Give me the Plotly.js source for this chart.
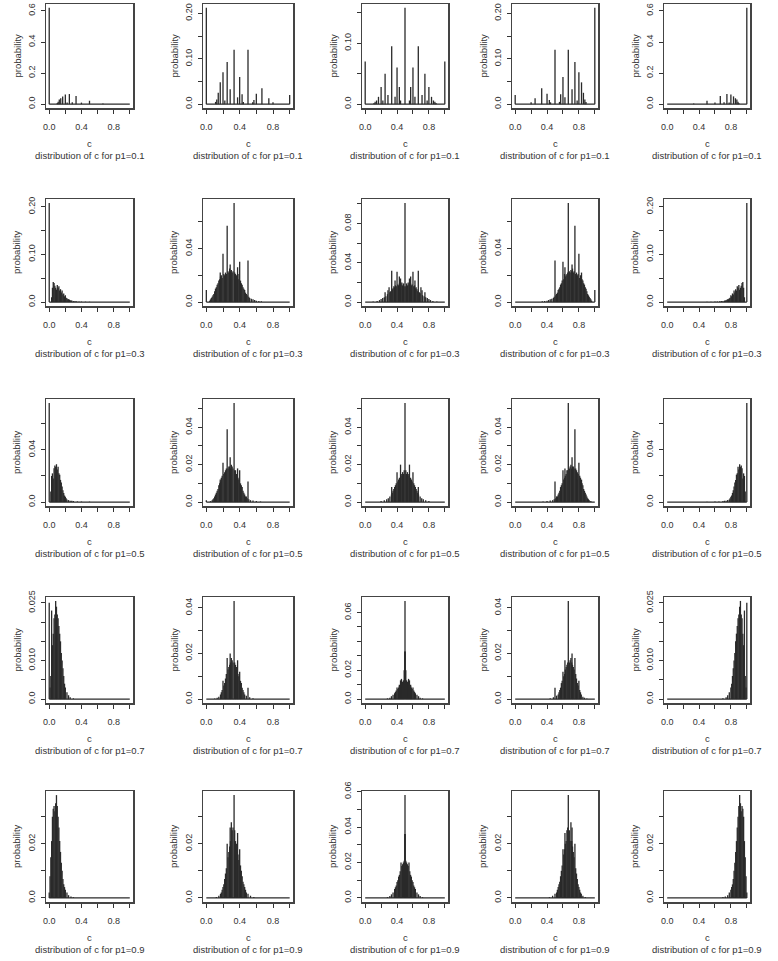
<!DOCTYPE html>
<html><head><meta charset="utf-8">
<script src="https://cdn.plot.ly/plotly-3.0.1.min.js"></script>
<style>html,body{margin:0;padding:0;background:#fff;}#chart{width:778px;height:961px;}</style>
</head><body><div id="chart"></div>
<script>
// ---------- data ----------
const p1Values = ["0.1", "0.3", "0.5", "0.7", "0.9"];
const cSupport = [0, 1];
const xTickVals = [0, 0.2, 0.4, 0.6, 0.8, 1.0];
const xTickText = ["0.0", "", "0.4", "", "0.8", ""];

// row 1: p1 = 0.1
const r1c1_x = [0, 0.1, 0.111, 0.125, 0.143, 0.167, 0.2, 0.222, 0.25, 0.286, 0.333, 0.4, 0.5, 0.667];
const r1c1_p = [0.62, 0.008, 0.015, 0.03, 0.038, 0.05, 0.062, 0.01, 0.065, 0.012, 0.052, 0.01, 0.022, 0.004];
const r1c2_x = [0, 0.111, 0.125, 0.143, 0.167, 0.2, 0.222, 0.25, 0.286, 0.333, 0.375, 0.4, 0.429, 0.444, 0.5, 0.556, 0.571, 0.6, 0.667, 0.75, 0.8, 1.0];
const r1c2_p = [0.212, 0.005, 0.01, 0.025, 0.048, 0.07, 0.008, 0.093, 0.033, 0.12, 0.015, 0.06, 0.022, 0.005, 0.12, 0.004, 0.009, 0.023, 0.035, 0.013, 0.004, 0.02];
const r1c3_x = [0, 0.111, 0.125, 0.143, 0.167, 0.2, 0.222, 0.25, 0.286, 0.333, 0.375, 0.4, 0.429, 0.444, 0.5, 0.556, 0.571, 0.6, 0.625, 0.667, 0.714, 0.75, 0.778, 0.8, 0.833, 0.857, 0.875, 0.889, 1.0];
const r1c3_p = [0.07, 0.002, 0.004, 0.006, 0.012, 0.028, 0.006, 0.05, 0.015, 0.095, 0.012, 0.06, 0.028, 0.006, 0.158, 0.006, 0.028, 0.06, 0.012, 0.095, 0.015, 0.05, 0.006, 0.028, 0.012, 0.006, 0.004, 0.002, 0.07];
const r1c4_x = [0, 0.2, 0.25, 0.333, 0.4, 0.429, 0.444, 0.5, 0.556, 0.571, 0.6, 0.625, 0.667, 0.714, 0.75, 0.778, 0.8, 0.833, 0.857, 0.875, 0.889, 1.0];
const r1c4_p = [0.02, 0.004, 0.013, 0.035, 0.023, 0.009, 0.004, 0.12, 0.005, 0.022, 0.06, 0.015, 0.12, 0.033, 0.093, 0.008, 0.07, 0.048, 0.025, 0.01, 0.005, 0.212];
const r1c5_x = [0.333, 0.5, 0.6, 0.667, 0.714, 0.75, 0.778, 0.8, 0.833, 0.857, 0.875, 0.889, 0.9, 1.0];
const r1c5_p = [0.004, 0.022, 0.01, 0.052, 0.012, 0.065, 0.01, 0.062, 0.05, 0.038, 0.03, 0.015, 0.008, 0.62];

// row 2: p1 = 0.3
const r2c1_x = [0, 0.03, 0.04, 0.05, 0.06, 0.07, 0.08, 0.09, 0.1, 0.11, 0.12, 0.13, 0.14, 0.15, 0.16, 0.17, 0.18, 0.19, 0.2, 0.21, 0.22, 0.23, 0.24, 0.25, 0.26, 0.27, 0.28, 0.3, 0.32, 0.34, 0.37, 0.4, 0.45, 0.5];
const r2c1_p = [0.208, 0.01, 0.03, 0.042, 0.04, 0.034, 0.03, 0.026, 0.036, 0.03, 0.033, 0.024, 0.027, 0.02, 0.024, 0.016, 0.018, 0.012, 0.014, 0.009, 0.008, 0.006, 0.006, 0.005, 0.004, 0.003, 0.003, 0.002, 0.002, 0.0015, 0.001, 0.001, 0.0008, 0.0006];
const r2c2_x = [0, 0.04, 0.05, 0.06, 0.07, 0.08, 0.09, 0.1, 0.11, 0.12, 0.13, 0.14, 0.15, 0.16, 0.167, 0.17, 0.18, 0.19, 0.2, 0.21, 0.22, 0.23, 0.24, 0.25, 0.26, 0.27, 0.28, 0.286, 0.29, 0.3, 0.31, 0.32, 0.333, 0.34, 0.35, 0.36, 0.37, 0.375, 0.38, 0.39, 0.4, 0.41, 0.42, 0.43, 0.44, 0.45, 0.46, 0.47, 0.48, 0.49, 0.5, 0.51, 0.52, 0.54, 0.56, 0.58, 0.6, 0.63, 0.66];
const r2c2_p = [0.009, 0.001, 0.002, 0.003, 0.004, 0.005, 0.006, 0.008, 0.01, 0.011, 0.013, 0.014, 0.016, 0.017, 0.022, 0.019, 0.02, 0.018, 0.036, 0.021, 0.02, 0.022, 0.021, 0.057, 0.023, 0.022, 0.025, 0.028, 0.023, 0.024, 0.022, 0.023, 0.074, 0.022, 0.021, 0.02, 0.019, 0.026, 0.021, 0.017, 0.03, 0.016, 0.014, 0.013, 0.011, 0.01, 0.009, 0.007, 0.006, 0.005, 0.031, 0.004, 0.003, 0.0025, 0.002, 0.0015, 0.001, 0.0008, 0.0005];
const r2c3_x = [0.1, 0.15, 0.18, 0.2, 0.22, 0.24, 0.25, 0.26, 0.28, 0.286, 0.3, 0.31, 0.32, 0.333, 0.34, 0.35, 0.36, 0.37, 0.375, 0.38, 0.39, 0.4, 0.41, 0.42, 0.429, 0.43, 0.444, 0.45, 0.46, 0.47, 0.48, 0.49, 0.5, 0.51, 0.52, 0.53, 0.54, 0.55, 0.556, 0.57, 0.571, 0.58, 0.59, 0.6, 0.61, 0.62, 0.625, 0.63, 0.64, 0.65, 0.66, 0.667, 0.68, 0.69, 0.7, 0.714, 0.72, 0.74, 0.75, 0.76, 0.78, 0.8, 0.82, 0.85, 0.9];
const r2c3_p = [0.0005, 0.001, 0.002, 0.003, 0.004, 0.005, 0.01, 0.006, 0.008, 0.012, 0.015, 0.01, 0.011, 0.032, 0.013, 0.014, 0.016, 0.015, 0.022, 0.017, 0.016, 0.031, 0.018, 0.017, 0.026, 0.019, 0.024, 0.018, 0.02, 0.017, 0.019, 0.016, 0.101, 0.016, 0.019, 0.017, 0.02, 0.018, 0.024, 0.019, 0.026, 0.017, 0.018, 0.031, 0.016, 0.017, 0.022, 0.014, 0.015, 0.013, 0.011, 0.032, 0.01, 0.009, 0.015, 0.012, 0.007, 0.006, 0.01, 0.005, 0.004, 0.003, 0.002, 0.001, 0.0005];
const r2c4_x = [0.34, 0.37, 0.4, 0.42, 0.44, 0.46, 0.48, 0.49, 0.5, 0.51, 0.52, 0.53, 0.54, 0.55, 0.56, 0.57, 0.58, 0.59, 0.6, 0.61, 0.62, 0.625, 0.63, 0.64, 0.65, 0.66, 0.667, 0.68, 0.69, 0.7, 0.71, 0.714, 0.72, 0.73, 0.74, 0.75, 0.76, 0.77, 0.78, 0.79, 0.8, 0.81, 0.82, 0.83, 0.833, 0.84, 0.85, 0.86, 0.87, 0.88, 0.89, 0.9, 0.91, 0.92, 0.93, 0.94, 0.95, 0.96, 1.0];
const r2c4_p = [0.0005, 0.0008, 0.001, 0.0015, 0.002, 0.0025, 0.003, 0.004, 0.031, 0.005, 0.006, 0.007, 0.009, 0.01, 0.011, 0.013, 0.014, 0.016, 0.03, 0.017, 0.021, 0.026, 0.019, 0.02, 0.021, 0.022, 0.074, 0.023, 0.022, 0.024, 0.023, 0.028, 0.025, 0.022, 0.023, 0.057, 0.021, 0.022, 0.02, 0.021, 0.036, 0.018, 0.02, 0.019, 0.022, 0.017, 0.016, 0.014, 0.013, 0.011, 0.01, 0.008, 0.006, 0.005, 0.004, 0.003, 0.002, 0.001, 0.009];
const r2c5_x = [0.5, 0.55, 0.6, 0.63, 0.66, 0.68, 0.7, 0.72, 0.73, 0.74, 0.75, 0.76, 0.77, 0.78, 0.79, 0.8, 0.81, 0.82, 0.83, 0.84, 0.85, 0.86, 0.87, 0.88, 0.89, 0.9, 0.91, 0.92, 0.93, 0.94, 0.95, 0.96, 0.97, 1.0];
const r2c5_p = [0.0006, 0.0008, 0.001, 0.001, 0.0015, 0.002, 0.002, 0.003, 0.003, 0.004, 0.005, 0.006, 0.006, 0.008, 0.009, 0.014, 0.012, 0.018, 0.016, 0.024, 0.02, 0.027, 0.024, 0.033, 0.03, 0.036, 0.026, 0.03, 0.034, 0.04, 0.042, 0.03, 0.01, 0.208];

// row 3: p1 = 0.5
const r3c1_x = [0, 0.02, 0.03, 0.04, 0.05, 0.06, 0.07, 0.08, 0.09, 0.1, 0.11, 0.12, 0.13, 0.14, 0.15, 0.16, 0.17, 0.18, 0.19, 0.2, 0.21, 0.22, 0.24, 0.26, 0.28, 0.3, 0.35, 0.4, 0.5];
const r3c1_p = [0.076, 0.008, 0.02, 0.022, 0.018, 0.026, 0.028, 0.027, 0.029, 0.025, 0.027, 0.022, 0.021, 0.017, 0.015, 0.012, 0.009, 0.007, 0.005, 0.004, 0.003, 0.002, 0.0015, 0.001, 0.001, 0.0008, 0.0005, 0.0004, 0.0003];
const r3c2_x = [0, 0.05, 0.07, 0.08, 0.09, 0.1, 0.11, 0.12, 0.13, 0.14, 0.15, 0.16, 0.167, 0.17, 0.18, 0.19, 0.2, 0.21, 0.22, 0.23, 0.24, 0.25, 0.26, 0.27, 0.28, 0.286, 0.29, 0.3, 0.31, 0.32, 0.333, 0.34, 0.35, 0.36, 0.37, 0.375, 0.38, 0.39, 0.4, 0.41, 0.42, 0.43, 0.44, 0.45, 0.46, 0.47, 0.48, 0.49, 0.5, 0.51, 0.53, 0.56, 0.6, 0.65];
const r3c2_p = [0.001, 0.0005, 0.001, 0.0015, 0.002, 0.003, 0.004, 0.005, 0.006, 0.007, 0.009, 0.01, 0.012, 0.011, 0.013, 0.014, 0.021, 0.015, 0.016, 0.017, 0.018, 0.039, 0.018, 0.019, 0.019, 0.024, 0.018, 0.02, 0.019, 0.018, 0.053, 0.017, 0.017, 0.015, 0.014, 0.018, 0.013, 0.012, 0.017, 0.01, 0.009, 0.008, 0.006, 0.005, 0.004, 0.003, 0.003, 0.002, 0.011, 0.0015, 0.001, 0.0008, 0.0005, 0.0003];
const r3c3_x = [0.2, 0.24, 0.27, 0.29, 0.31, 0.33, 0.333, 0.34, 0.35, 0.36, 0.37, 0.38, 0.39, 0.4, 0.41, 0.42, 0.429, 0.43, 0.444, 0.45, 0.46, 0.47, 0.48, 0.49, 0.5, 0.51, 0.52, 0.53, 0.54, 0.55, 0.556, 0.57, 0.571, 0.58, 0.59, 0.6, 0.61, 0.62, 0.63, 0.64, 0.65, 0.66, 0.667, 0.67, 0.69, 0.71, 0.73, 0.76, 0.8];
const r3c3_p = [0.0005, 0.001, 0.0015, 0.002, 0.003, 0.004, 0.008, 0.005, 0.006, 0.007, 0.008, 0.009, 0.01, 0.016, 0.011, 0.012, 0.012, 0.013, 0.02, 0.014, 0.015, 0.016, 0.015, 0.017, 0.053, 0.017, 0.015, 0.016, 0.015, 0.014, 0.02, 0.013, 0.012, 0.012, 0.011, 0.016, 0.01, 0.009, 0.008, 0.007, 0.006, 0.005, 0.008, 0.004, 0.003, 0.002, 0.0015, 0.001, 0.0005];
const r3c4_x = [0.35, 0.4, 0.44, 0.47, 0.49, 0.5, 0.51, 0.52, 0.53, 0.54, 0.55, 0.56, 0.57, 0.58, 0.59, 0.6, 0.61, 0.62, 0.625, 0.63, 0.64, 0.65, 0.66, 0.667, 0.68, 0.69, 0.7, 0.71, 0.714, 0.72, 0.73, 0.74, 0.75, 0.76, 0.77, 0.778, 0.78, 0.79, 0.8, 0.81, 0.82, 0.83, 0.833, 0.84, 0.85, 0.86, 0.87, 0.88, 0.89, 0.9, 0.91, 0.92, 0.93, 0.95];
const r3c4_p = [0.0003, 0.0005, 0.0008, 0.001, 0.0015, 0.011, 0.002, 0.003, 0.003, 0.004, 0.005, 0.006, 0.008, 0.009, 0.01, 0.017, 0.012, 0.013, 0.018, 0.014, 0.015, 0.017, 0.017, 0.053, 0.018, 0.019, 0.02, 0.018, 0.024, 0.019, 0.019, 0.018, 0.039, 0.018, 0.017, 0.012, 0.016, 0.015, 0.021, 0.014, 0.013, 0.011, 0.012, 0.01, 0.009, 0.007, 0.006, 0.005, 0.004, 0.003, 0.002, 0.0015, 0.001, 0.0005];
const r3c5_x = [0.5, 0.6, 0.65, 0.7, 0.72, 0.74, 0.76, 0.78, 0.79, 0.8, 0.81, 0.82, 0.83, 0.84, 0.85, 0.86, 0.87, 0.88, 0.89, 0.9, 0.91, 0.92, 0.93, 0.94, 0.95, 0.96, 0.97, 0.98, 1.0];
const r3c5_p = [0.0003, 0.0004, 0.0005, 0.0008, 0.001, 0.001, 0.0015, 0.002, 0.003, 0.004, 0.005, 0.007, 0.009, 0.012, 0.015, 0.017, 0.021, 0.022, 0.027, 0.025, 0.029, 0.027, 0.028, 0.026, 0.018, 0.022, 0.02, 0.008, 0.076];

// row 4: p1 = 0.7
const r4c1_x = [0, 0.01, 0.02, 0.03, 0.04, 0.05, 0.06, 0.07, 0.08, 0.09, 0.1, 0.11, 0.12, 0.13, 0.14, 0.15, 0.16, 0.17, 0.18, 0.19, 0.2, 0.22, 0.24, 0.26, 0.3];
const r4c1_p = [0.025, 0.003, 0.006, 0.023, 0.014, 0.017, 0.021, 0.022, 0.0255, 0.024, 0.022, 0.021, 0.019, 0.017, 0.015, 0.012, 0.01, 0.008, 0.006, 0.004, 0.003, 0.0018, 0.001, 0.0005, 0.0002];
const r4c2_x = [0.1, 0.13, 0.15, 0.17, 0.18, 0.19, 0.2, 0.21, 0.22, 0.23, 0.24, 0.25, 0.26, 0.27, 0.28, 0.286, 0.29, 0.3, 0.31, 0.32, 0.333, 0.34, 0.35, 0.36, 0.37, 0.375, 0.38, 0.39, 0.4, 0.41, 0.42, 0.43, 0.44, 0.45, 0.46, 0.48, 0.5, 0.52, 0.56];
const r4c2_p = [0.0003, 0.0006, 0.001, 0.002, 0.003, 0.004, 0.008, 0.006, 0.007, 0.009, 0.011, 0.018, 0.013, 0.014, 0.015, 0.02, 0.016, 0.018, 0.017, 0.016, 0.043, 0.016, 0.015, 0.014, 0.013, 0.017, 0.011, 0.01, 0.012, 0.008, 0.007, 0.005, 0.004, 0.003, 0.002, 0.0015, 0.005, 0.0008, 0.0004];
const r4c3_x = [0.28, 0.31, 0.33, 0.35, 0.37, 0.38, 0.39, 0.4, 0.41, 0.42, 0.429, 0.43, 0.444, 0.45, 0.455, 0.46, 0.47, 0.48, 0.49, 0.497, 0.5, 0.503, 0.51, 0.52, 0.53, 0.54, 0.545, 0.55, 0.556, 0.57, 0.571, 0.58, 0.59, 0.6, 0.61, 0.62, 0.63, 0.65, 0.67, 0.69, 0.72];
const r4c3_p = [0.0005, 0.001, 0.002, 0.003, 0.004, 0.005, 0.006, 0.008, 0.007, 0.008, 0.01, 0.009, 0.013, 0.01, 0.014, 0.011, 0.012, 0.013, 0.02, 0.033, 0.068, 0.033, 0.02, 0.013, 0.012, 0.011, 0.014, 0.01, 0.013, 0.009, 0.01, 0.008, 0.007, 0.008, 0.006, 0.005, 0.004, 0.003, 0.002, 0.001, 0.0005];
const r4c4_x = [0.44, 0.48, 0.5, 0.52, 0.54, 0.55, 0.56, 0.57, 0.58, 0.59, 0.6, 0.61, 0.62, 0.625, 0.63, 0.64, 0.65, 0.66, 0.667, 0.68, 0.69, 0.7, 0.71, 0.714, 0.72, 0.73, 0.74, 0.75, 0.76, 0.77, 0.78, 0.79, 0.8, 0.81, 0.82, 0.83, 0.85, 0.87, 0.9];
const r4c4_p = [0.0004, 0.0008, 0.005, 0.0015, 0.002, 0.003, 0.004, 0.005, 0.007, 0.008, 0.012, 0.01, 0.011, 0.017, 0.013, 0.014, 0.015, 0.016, 0.043, 0.016, 0.017, 0.018, 0.016, 0.02, 0.015, 0.014, 0.013, 0.018, 0.011, 0.009, 0.007, 0.006, 0.008, 0.004, 0.003, 0.002, 0.001, 0.0006, 0.0003];
const r4c5_x = [0.7, 0.74, 0.76, 0.78, 0.8, 0.81, 0.82, 0.83, 0.84, 0.85, 0.86, 0.87, 0.88, 0.89, 0.9, 0.91, 0.92, 0.93, 0.94, 0.95, 0.96, 0.97, 0.98, 0.99, 1.0];
const r4c5_p = [0.0002, 0.0005, 0.001, 0.0018, 0.003, 0.004, 0.006, 0.008, 0.01, 0.012, 0.015, 0.017, 0.019, 0.021, 0.022, 0.024, 0.0255, 0.022, 0.021, 0.017, 0.014, 0.023, 0.006, 0.003, 0.025];

// row 5: p1 = 0.9
const r5c1_x = [0, 0.01, 0.02, 0.03, 0.04, 0.05, 0.06, 0.07, 0.08, 0.09, 0.1, 0.11, 0.12, 0.13, 0.14, 0.15, 0.16, 0.17, 0.18, 0.19, 0.2, 0.22, 0.24, 0.27, 0.3];
const r5c1_p = [0.002, 0.008, 0.015, 0.021, 0.03, 0.033, 0.034, 0.032, 0.035, 0.038, 0.034, 0.03, 0.026, 0.021, 0.017, 0.013, 0.01, 0.007, 0.005, 0.004, 0.003, 0.002, 0.001, 0.0005, 0.0003];
const r5c2_x = [0.12, 0.15, 0.17, 0.18, 0.19, 0.2, 0.21, 0.22, 0.23, 0.24, 0.25, 0.26, 0.27, 0.28, 0.286, 0.29, 0.3, 0.31, 0.32, 0.333, 0.34, 0.35, 0.36, 0.37, 0.375, 0.38, 0.39, 0.4, 0.41, 0.42, 0.43, 0.44, 0.45, 0.46, 0.47, 0.48, 0.5, 0.53, 0.57];
const r5c2_p = [0.0003, 0.0008, 0.0015, 0.002, 0.003, 0.004, 0.005, 0.007, 0.009, 0.011, 0.02, 0.015, 0.017, 0.019, 0.026, 0.021, 0.028, 0.025, 0.026, 0.038, 0.025, 0.021, 0.02, 0.018, 0.024, 0.016, 0.014, 0.018, 0.012, 0.01, 0.008, 0.006, 0.005, 0.004, 0.003, 0.002, 0.0015, 0.0008, 0.0003];
const r5c3_x = [0.28, 0.31, 0.33, 0.35, 0.37, 0.38, 0.39, 0.4, 0.41, 0.42, 0.43, 0.44, 0.45, 0.46, 0.47, 0.48, 0.49, 0.497, 0.5, 0.503, 0.51, 0.52, 0.53, 0.54, 0.55, 0.56, 0.57, 0.58, 0.59, 0.6, 0.61, 0.62, 0.63, 0.65, 0.67, 0.69, 0.72];
const r5c3_p = [0.0005, 0.001, 0.002, 0.003, 0.005, 0.006, 0.007, 0.009, 0.01, 0.012, 0.013, 0.015, 0.02, 0.018, 0.019, 0.02, 0.021, 0.036, 0.058, 0.036, 0.021, 0.02, 0.019, 0.018, 0.02, 0.015, 0.013, 0.012, 0.01, 0.009, 0.007, 0.006, 0.005, 0.003, 0.002, 0.001, 0.0005];
const r5c4_x = [0.43, 0.47, 0.5, 0.52, 0.53, 0.54, 0.55, 0.56, 0.57, 0.58, 0.59, 0.6, 0.61, 0.62, 0.625, 0.63, 0.64, 0.65, 0.66, 0.667, 0.68, 0.69, 0.7, 0.71, 0.714, 0.72, 0.73, 0.74, 0.75, 0.76, 0.77, 0.78, 0.79, 0.8, 0.81, 0.82, 0.83, 0.85, 0.88];
const r5c4_p = [0.0003, 0.0008, 0.0015, 0.002, 0.003, 0.004, 0.005, 0.006, 0.008, 0.01, 0.012, 0.018, 0.016, 0.018, 0.024, 0.02, 0.021, 0.025, 0.026, 0.038, 0.025, 0.021, 0.028, 0.021, 0.026, 0.019, 0.017, 0.015, 0.02, 0.011, 0.009, 0.007, 0.005, 0.004, 0.003, 0.002, 0.0015, 0.0008, 0.0003];
const r5c5_x = [0.7, 0.73, 0.76, 0.78, 0.8, 0.81, 0.82, 0.83, 0.84, 0.85, 0.86, 0.87, 0.88, 0.89, 0.9, 0.91, 0.92, 0.93, 0.94, 0.95, 0.96, 0.97, 0.98, 0.99, 1.0];
const r5c5_p = [0.0003, 0.0005, 0.001, 0.002, 0.003, 0.004, 0.005, 0.007, 0.01, 0.013, 0.017, 0.021, 0.026, 0.03, 0.034, 0.038, 0.035, 0.032, 0.034, 0.033, 0.03, 0.021, 0.015, 0.008, 0.002];

// y-axis tick values and labels per panel type
const yt_big = [0, 0.2, 0.4, 0.6];            const yl_big = ["0.0", "0.2", "0.4", "0.6"];
const yt_020 = [0, 0.05, 0.1, 0.15, 0.2];     const yl_020 = ["0.0", "", "0.10", "", "0.20"];
const yt_015 = [0, 0.05, 0.1, 0.15];          const yl_015 = ["0.0", "", "0.10", ""];
const yt_006 = [0, 0.02, 0.04, 0.06];         const yl_006 = ["0.0", "", "0.04", ""];
const yt_010 = [0, 0.02, 0.04, 0.06, 0.08, 0.1]; const yl_010 = ["0.0", "", "0.04", "", "0.08", ""];
const yt_008 = [0, 0.02, 0.04, 0.06, 0.08];   const yl_008 = ["0.0", "", "0.04", "", "0.08"];
const yt_005 = [0, 0.01, 0.02, 0.03, 0.04, 0.05]; const yl_005 = ["0.0", "", "0.02", "", "0.04", ""];
const yt_025 = [0, 0.005, 0.01, 0.015, 0.02, 0.025]; const yl_025 = ["0.0", "", "0.010", "", "", "0.025"];
const yt_004 = [0, 0.01, 0.02, 0.03, 0.04];   const yl_004 = ["0.0", "", "0.02", "", "0.04"];
const yt_r4c3 = [0, 0.01, 0.02, 0.03, 0.04, 0.05, 0.06]; const yl_r4c3 = ["0.0", "", "0.02", "", "", "", "0.06"];
const yt_003 = [0, 0.01, 0.02, 0.03];         const yl_003 = ["0.0", "", "0.02", ""];
const yt_r5c3 = [0, 0.01, 0.02, 0.03, 0.04, 0.05, 0.06]; const yl_r5c3 = ["0.0", "", "0.02", "", "0.04", "", "0.06"];

const panelData = [
  [[r1c1_x, r1c1_p, yt_big, yl_big], [r1c2_x, r1c2_p, yt_020, yl_020], [r1c3_x, r1c3_p, yt_015, yl_015], [r1c4_x, r1c4_p, yt_020, yl_020], [r1c5_x, r1c5_p, yt_big, yl_big]],
  [[r2c1_x, r2c1_p, yt_020, yl_020], [r2c2_x, r2c2_p, yt_006, yl_006], [r2c3_x, r2c3_p, yt_010, yl_010], [r2c4_x, r2c4_p, yt_006, yl_006], [r2c5_x, r2c5_p, yt_020, yl_020]],
  [[r3c1_x, r3c1_p, yt_008, yl_008], [r3c2_x, r3c2_p, yt_005, yl_005], [r3c3_x, r3c3_p, yt_005, yl_005], [r3c4_x, r3c4_p, yt_005, yl_005], [r3c5_x, r3c5_p, yt_008, yl_008]],
  [[r4c1_x, r4c1_p, yt_025, yl_025], [r4c2_x, r4c2_p, yt_004, yl_004], [r4c3_x, r4c3_p, yt_r4c3, yl_r4c3], [r4c4_x, r4c4_p, yt_004, yl_004], [r4c5_x, r4c5_p, yt_025, yl_025]],
  [[r5c1_x, r5c1_p, yt_003, yl_003], [r5c2_x, r5c2_p, yt_003, yl_003], [r5c3_x, r5c3_p, yt_r5c3, yl_r5c3], [r5c4_x, r5c4_p, yt_003, yl_003], [r5c5_x, r5c5_p, yt_003, yl_003]]
];

// ---------- layout geometry (pixels) ----------
const W = 778, H = 961;
const colLeft = [46, 203, 362, 512, 664];
const colWidth = [87, 90, 86, 86, 86];
const rowTop = [4, 199, 399, 597, 791];
const rowBottom = [108, 306, 506, 703, 902];

const FONT = "Liberation Sans, Arial, sans-serif";
const INK = "#333";

const traces = [];
const layout = {
  width: W, height: H,
  margin: {l: 0, r: 0, t: 0, b: 0},
  paper_bgcolor: "#fff", plot_bgcolor: "#fff",
  showlegend: false,
  font: {family: FONT, size: 9, color: INK},
  annotations: []
};

let k = 0;
for (let r = 0; r < 5; r++) {
  for (let c = 0; c < 5; c++) {
    k++;
    const id = k === 1 ? "" : String(k);
    const [xs, ps, yt, yl] = panelData[r][c];
    const M = Math.max(...ps);
    // spikes (type="h")
    const sx = [], sy = [];
    for (let i = 0; i < xs.length; i++) { sx.push(xs[i], xs[i], null); sy.push(0, ps[i], null); }
    traces.push({type: "scatter", mode: "lines", x: sx, y: sy, xaxis: "x" + id, yaxis: "y" + id,
      line: {color: "#2a2a2a", width: 1.3}, hoverinfo: "skip", connectgaps: false});
    // baseline over support of c
    traces.push({type: "scatter", mode: "lines", x: cSupport, y: [0, 0], xaxis: "x" + id, yaxis: "y" + id,
      line: {color: "#2a2a2a", width: 1.3}, hoverinfo: "skip"});

    const x0 = colLeft[c] / W, x1 = (colLeft[c] + colWidth[c]) / W;
    const y0 = 1 - rowBottom[r] / H, y1 = 1 - rowTop[r] / H;
    layout["xaxis" + id] = {
      domain: [x0, x1], anchor: "y" + id, range: [-0.04, 1.04],
      tickvals: xTickVals, ticktext: xTickText, ticks: "outside", ticklen: 4, tickwidth: 1, tickcolor: INK,
      showline: true, mirror: true, linecolor: "#444", linewidth: 1.5,
      showgrid: false, zeroline: false, fixedrange: true, ticklabelstandoff: 6,
      tickfont: {family: FONT, size: 9, color: INK}
    };
    layout["yaxis" + id] = {
      domain: [y0, y1], anchor: "x" + id, range: [-0.04 * M, 1.04 * M],
      tickvals: yt, ticktext: yl, ticks: "outside", ticklen: 4, tickwidth: 1, tickcolor: INK, tickangle: -90,
      showline: true, mirror: true, linecolor: "#444", linewidth: 1.5,
      showgrid: false, zeroline: false, fixedrange: true, ticklabelstandoff: 2,
      tickfont: {family: FONT, size: 9, color: INK}
    };
    layout.annotations.push(
      {text: "probability", xref: "x" + id + " domain", yref: "y" + id + " domain", x: 0, y: 0.5,
       xshift: -37, textangle: -90, showarrow: false, font: {family: FONT, size: 9.5, color: INK}},
      {text: "c", xref: "x" + id + " domain", yref: "y" + id + " domain", x: 0.5, y: 0,
       yshift: -43, showarrow: false, font: {family: FONT, size: 9.5, color: INK}},
      {text: "distribution of c for p1=" + p1Values[r], xref: "x" + id + " domain", yref: "y" + id + " domain", x: 0.5, y: 0,
       yshift: -55, showarrow: false, font: {family: FONT, size: 9.5, color: INK}}
    );
  }
}

Plotly.newPlot("chart", traces, layout, {staticPlot: true, displayModeBar: false});
</script>
</body></html>
